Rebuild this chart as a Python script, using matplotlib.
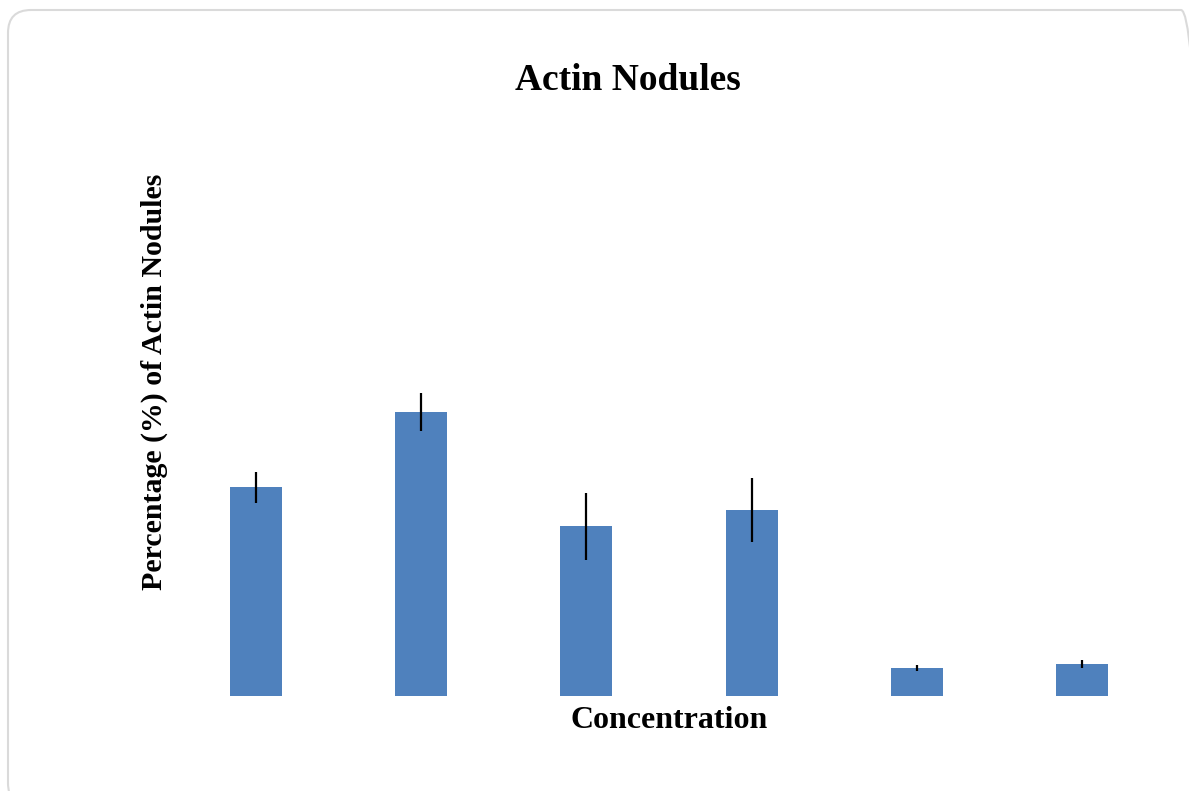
import matplotlib.pyplot as plt
from matplotlib.patches import FancyBboxPatch

# bar heights and error half-lengths (arbitrary units, no axis scale shown)
concentrations = ["C1", "C2", "C3", "C4", "C5", "C6"]
values = [209, 284, 170, 186, 28, 32]
errors = [15.5, 19, 33.5, 32, 3, 4]

plt.rcParams['font.family'] = ['Liberation Serif', 'DejaVu Serif']

W, H = 1189, 791
fig = plt.figure(figsize=(W / 100, H / 100), dpi=100)

# card border in inches (runs slightly past the right and bottom edges)
card = FancyBboxPatch((0.08, -0.15), 11.96, 7.96,
                      boxstyle="round,pad=0,rounding_size=0.23",
                      transform=fig.dpi_scale_trans, facecolor="none",
                      edgecolor="#dadada", linewidth=1.5, zorder=0)
fig.patches.append(card)

# axes: left 173, right 1165, top 100, bottom 696 (pixels)
ax = fig.add_axes([173 / W, 1 - 696 / H, (1165 - 173) / W, (696 - 100) / H])
ax.patch.set_alpha(0)
x = range(len(values))
ax.bar(x, values, width=0.315, color="#4f81bd", zorder=2)
ax.errorbar(x, values, yerr=errors, fmt="none", ecolor="black",
            elinewidth=1.6, capsize=0, zorder=3)
ax.set_xlim(-0.5, 5.5)
ax.set_ylim(0, 596)
for s in ax.spines.values():
    s.set_visible(False)
ax.set_xticks([])
ax.set_yticks([])

ax.set_xlabel("Concentration", fontsize=23, fontweight="bold")
ax.xaxis.set_label_coords(0.5, -10 / 596, transform=ax.transAxes)
ax.set_ylabel("Percentage (%) of Actin Nodules", fontsize=21.5, fontweight="bold")
ax.yaxis.set_label_coords(-5 / 992, (696 - 382) / 596)

fig.text(628 / W, 1 - 81 / H, "Actin Nodules", fontsize=27, fontweight="bold",
         ha="center", va="center")

fig.savefig("out.png", dpi=100)
